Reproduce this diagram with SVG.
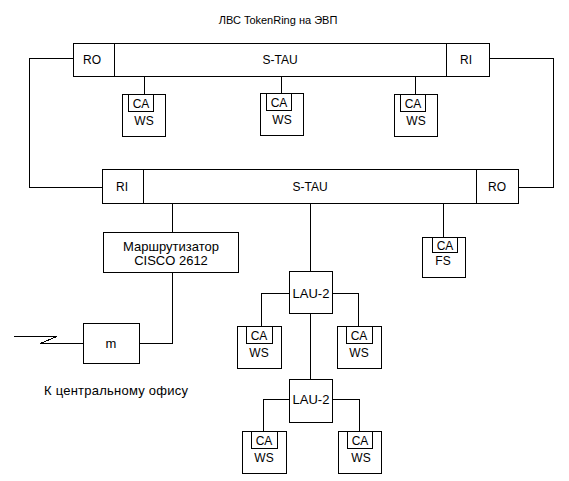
<svg xmlns="http://www.w3.org/2000/svg" width="569" height="481" viewBox="0 0 569 481">
<style>
rect{fill:#fff;stroke:#000;stroke-width:1;shape-rendering:crispEdges}
.c line,.c path,.c polyline{fill:none;stroke:#000;stroke-width:1;shape-rendering:crispEdges}
text{font-family:"Liberation Sans",Arial,sans-serif;font-size:12px;fill:#000;text-anchor:middle;dominant-baseline:central}
.t{font-size:11px}
.r{font-size:13px}
.k{font-size:13px;text-anchor:start}
</style>
<rect x="0" y="0" width="569" height="481" style="stroke:none"/>
<text class="t" x="278" y="20">ЛВС TokenRing на ЭВП</text>
<g class="c" id="connectors">
<polyline points="73.5,58.5 29.5,58.5 29.5,187.5 102.5,187.5"/>
<polyline points="489.5,58.5 553.5,58.5 553.5,187.5 518.5,187.5"/>
<line x1="144.5" y1="77" x2="144.5" y2="94"/>
<line x1="281.5" y1="77" x2="281.5" y2="93"/>
<line x1="415.5" y1="77" x2="415.5" y2="94"/>
<line x1="172.5" y1="203" x2="172.5" y2="232"/>
<polyline points="172.5,272 172.5,343.5 139.5,343.5"/>
<path d="M14,336.5 H57 L40,343.5 H83.5"/>
<line x1="310.5" y1="203" x2="310.5" y2="271"/>
<line x1="443.5" y1="203" x2="443.5" y2="237"/>
<polyline points="289.5,293.5 261.5,293.5 261.5,326"/>
<polyline points="332.5,293.5 358.5,293.5 358.5,326"/>
<line x1="310.5" y1="313" x2="310.5" y2="379"/>
<polyline points="289.5,399.5 263.5,399.5 263.5,431"/>
<polyline points="332.5,399.5 359.5,399.5 359.5,431"/>
</g>
<g id="stau-top">
<rect x="73.5" y="43.5" width="416" height="33"/>
<line x1="114.5" y1="43.5" x2="114.5" y2="76.5" stroke="#000" shape-rendering="crispEdges"/>
<line x1="446.5" y1="43.5" x2="446.5" y2="76.5" stroke="#000" shape-rendering="crispEdges"/>
<text x="92" y="60">RO</text>
<text x="280" y="60">S-TAU</text>
<text x="466" y="60">RI</text>
</g>
<g id="ws1"><rect x="122.5" y="94.5" width="43" height="42"/><rect x="128.5" y="94.5" width="25" height="17"/><text x="141" y="104">CA</text><text x="144" y="121">WS</text></g>
<g id="ws2"><rect x="260.5" y="93.5" width="43" height="42"/><rect x="266.5" y="93.5" width="25" height="17"/><text x="279" y="103">CA</text><text x="282" y="120">WS</text></g>
<g id="ws3"><rect x="394.5" y="94.5" width="43" height="42"/><rect x="400.5" y="94.5" width="25" height="17"/><text x="413" y="104">CA</text><text x="416" y="121">WS</text></g>
<g id="stau-bottom">
<rect x="102.5" y="169.5" width="416" height="34"/>
<line x1="143.5" y1="169.5" x2="143.5" y2="203.5" stroke="#000" shape-rendering="crispEdges"/>
<line x1="476.5" y1="169.5" x2="476.5" y2="203.5" stroke="#000" shape-rendering="crispEdges"/>
<text x="122" y="187">RI</text>
<text x="310" y="187">S-TAU</text>
<text x="497" y="187">RO</text>
</g>
<g id="router"><rect x="103.5" y="232.5" width="135" height="40"/><text class="r" x="171" y="246">Маршрутизатор</text><text class="r" x="171" y="260">CISCO 2612</text></g>
<g id="fs"><rect x="422.5" y="237.5" width="43" height="40"/><rect x="432.5" y="237.5" width="25" height="15"/><text x="445" y="246">CA</text><text x="443" y="261">FS</text></g>
<g id="modem"><rect x="83.5" y="323.5" width="56" height="40"/><text class="r" x="111" y="343">m</text></g>
<text class="k" x="44" y="390" textLength="144">К центральному офису</text>
<g id="lau1"><rect x="289.5" y="271.5" width="43" height="42"/><text class="r" x="311" y="293">LAU-2</text></g>
<g id="ws4"><rect x="237.5" y="326.5" width="44" height="42"/><rect x="246.5" y="326.5" width="26" height="17"/><text x="259" y="336">CA</text><text x="259" y="353">WS</text></g>
<g id="ws5"><rect x="337.5" y="326.5" width="44" height="42"/><rect x="346.5" y="326.5" width="26" height="17"/><text x="359" y="336">CA</text><text x="359" y="353">WS</text></g>
<g id="lau2"><rect x="289.5" y="379.5" width="43" height="43"/><text class="r" x="311" y="399">LAU-2</text></g>
<g id="ws6"><rect x="242.5" y="431.5" width="44" height="42"/><rect x="251.5" y="431.5" width="26" height="17"/><text x="264" y="441">CA</text><text x="264" y="458">WS</text></g>
<g id="ws7"><rect x="338.5" y="431.5" width="43" height="42"/><rect x="347.5" y="431.5" width="25" height="17"/><text x="360" y="441">CA</text><text x="361" y="458">WS</text></g>
</svg>
